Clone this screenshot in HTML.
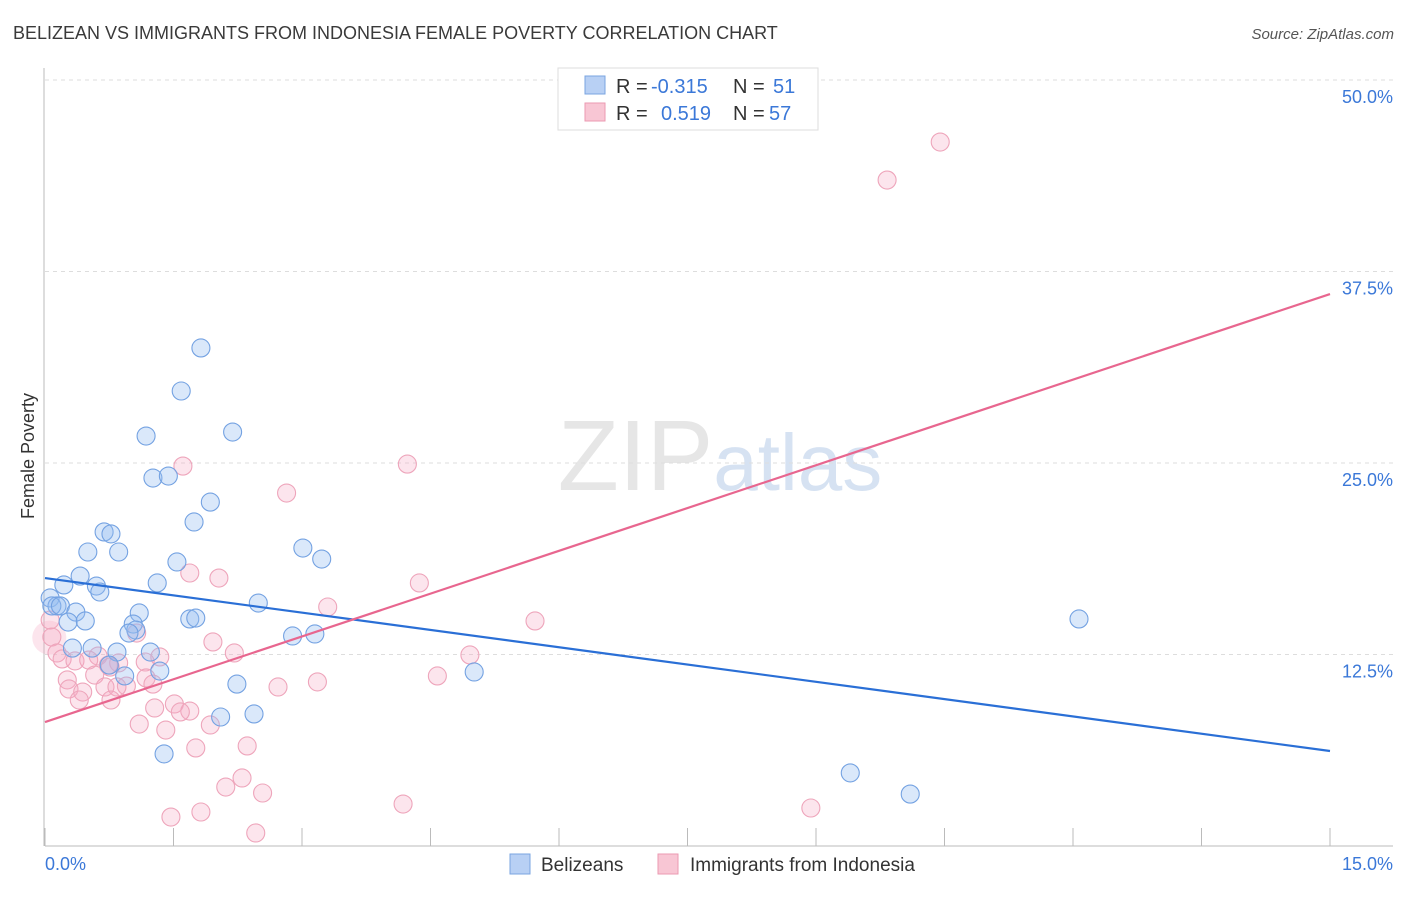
<!DOCTYPE html>
<html><head><meta charset="utf-8"><style>
body{margin:0;background:#fff;font-family:"Liberation Sans",sans-serif;}
svg text{font-family:"Liberation Sans",sans-serif;}
</style></head><body>
<svg id="chart" width="1406" height="892" viewBox="0 0 1406 892">
<text x="13" y="39" font-size="18" fill="#3a3a3a">BELIZEAN VS IMMIGRANTS FROM INDONESIA FEMALE POVERTY CORRELATION CHART</text>
<text x="1394" y="39" font-size="15" fill="#555" text-anchor="end" font-style="italic">Source: ZipAtlas.com</text>
<text transform="translate(34,456) rotate(-90)" font-size="18" fill="#333" text-anchor="middle">Female Poverty</text>
<text x="720" y="490" font-size="100" fill="#e6e6e6" text-anchor="middle" font-family="Liberation Serif">ZIP<tspan fill="#d6e2f2" font-family="Liberation Sans" font-size="80">atlas</tspan></text>
<g id="grid"></g><g id="pts"></g><g id="lines"></g>
<g>
<rect x="558" y="68" width="260" height="62" fill="#fff" stroke="#ddd"/>
<rect x="585" y="76" width="20" height="18" fill="#b8d0f4" stroke="#7aa4e0"/>
<rect x="585" y="103" width="20" height="18" fill="#f8c6d4" stroke="#eb9ab2"/>
<text x="616" y="93" font-size="20" fill="#333">R =</text>
<text x="651" y="93" font-size="20" fill="#3b78d8">-0.315</text>
<text x="733" y="93" font-size="20" fill="#333">N =</text>
<text x="773" y="93" font-size="20" fill="#3b78d8">51</text>
<text x="616" y="120" font-size="20" fill="#333">R =</text>
<text x="661" y="120" font-size="20" fill="#3b78d8">0.519</text>
<text x="733" y="120" font-size="20" fill="#333">N =</text>
<text x="769" y="120" font-size="20" fill="#3b78d8">57</text>
</g>
<g>
<rect x="510" y="854" width="20" height="20" fill="#b8d0f4" stroke="#7aa4e0"/>
<text x="541" y="871" font-size="19" fill="#333">Belizeans</text>
<rect x="658" y="854" width="20" height="20" fill="#f8c6d4" stroke="#eb9ab2"/>
<text x="690" y="871" font-size="19" fill="#333">Immigrants from Indonesia</text>
</g>
</svg>
<script>
const yTicks=[12.5,25,37.5,50];
const yTickLabels=["12.5%","25.0%","37.5%","50.0%"];
const xTickLabels=["0.0%","15.0%"];
const blueX=[1.82,1.59,1.18,2.19,1.26,1.44,1.93,1.74,0.69,0.77,0.50,0.86,3.01,3.23,1.54,0.41,0.22,0.60,1.31,0.64,0.06,0.14,0.08,0.18,0.36,1.10,2.49,1.69,1.76,0.27,0.47,1.03,1.06,0.98,2.89,3.15,0.55,0.32,0.84,1.23,1.34,0.75,0.93,2.24,5.01,2.05,2.44,1.39,9.40,10.10,12.07];
const blueY=[32.51,29.70,26.76,27.02,24.02,24.15,22.45,21.15,20.50,20.37,19.19,19.19,19.45,18.73,18.54,17.62,17.04,16.97,17.17,16.58,16.19,15.67,15.67,15.67,15.27,15.21,15.86,14.82,14.88,14.62,14.69,14.49,14.10,13.90,13.71,13.84,12.92,12.92,12.66,12.66,11.42,11.81,11.10,10.57,11.36,8.42,8.62,6.01,4.77,3.39,14.82];
const pinkX=[10.45,9.83,1.61,4.23,2.82,2.03,1.69,4.37,3.30,5.72,0.06,0.08,1.96,1.07,0.14,0.20,2.21,1.34,0.62,0.86,4.96,0.35,0.51,0.74,1.17,0.76,0.26,0.58,4.58,1.18,3.18,2.72,0.28,0.44,0.70,0.95,1.26,0.84,0.40,0.77,1.28,1.51,1.69,1.58,1.10,1.93,1.41,1.76,2.36,2.30,2.11,2.54,4.18,8.94,1.82,1.47,2.46];
const pinkY=[45.95,43.47,24.80,24.93,23.04,17.49,17.82,17.17,15.60,14.69,14.75,13.64,13.32,13.90,12.60,12.21,12.60,12.34,12.40,11.95,12.47,12.08,12.14,11.81,12.01,11.68,10.84,11.16,11.10,10.97,10.71,10.38,10.25,10.05,10.38,10.44,10.57,10.38,9.53,9.53,9.01,9.27,8.81,8.75,7.96,7.90,7.57,6.40,6.53,4.44,3.85,3.46,2.74,2.48,2.22,1.89,0.85];
const blueTrend=[17.49,6.20];
const pinkTrend=[8.09,36.03];
const NS="http://www.w3.org/2000/svg";
const X0=45,X1=1330,Y0=846,Y50=80;
function sx(v){return X0+(X1-X0)*v/15;}
function sy(v){return Y0-(Y0-Y50)*v/50;}
function mk(tag,attrs,parent){const e=document.createElementNS(NS,tag);for(const k in attrs)e.setAttribute(k,attrs[k]);parent.appendChild(e);return e;}
const grid=document.getElementById('grid');
let ax=mk('line',{x1:44,y1:68,x2:44,y2:846,stroke:'#bbb','stroke-width':1},grid);


let bx=mk('line',{x1:45,y1:846,x2:1393,y2:846,stroke:'#bbb','stroke-width':1},grid);


yTicks.forEach((t,i)=>{
 const g=mk('line',{x1:45,y1:sy(t),x2:1393,y2:sy(t),stroke:'#ddd','stroke-dasharray':'4,4'},grid);
 
 
 const tx=mk('text',{x:1393,y:sy(t)+23,'font-size':18,fill:'#3b78d8','text-anchor':'end'},grid);
 tx.textContent=yTickLabels[i];
 
 
});
for(let i=0;i<=10;i++){
 const x=sx(i*1.5);
 const t=mk('line',{x1:x,y1:828,x2:x,y2:846,stroke:'#bbb'},grid);
 
 
}
[[0,45,'start'],[1,1393,'end']].forEach(([i,x,a])=>{
 const t=mk('text',{x:x,y:870,'font-size':18,fill:'#3b78d8','text-anchor':a},grid);
 t.textContent=xTickLabels[i];
 
 
});
const pts=document.getElementById('pts');
const big=mk('circle',{cx:sx(0.05),cy:sy(13.6),r:17,fill:'rgba(245,170,195,0.3)',stroke:'none'},pts);


pinkX.forEach((v,i)=>{
 const c=mk('circle',{cx:sx(v),cy:sy(pinkY[i]),r:9,fill:'rgba(245,170,195,0.3)',stroke:'#eea5bb','stroke-width':1.1},pts);
 
 
});
blueX.forEach((v,i)=>{
 const c=mk('circle',{cx:sx(v),cy:sy(blueY[i]),r:9,fill:'rgba(150,190,240,0.35)',stroke:'#74a2e2','stroke-width':1.1},pts);
 
 
});
const lines=document.getElementById('lines');
const bl=mk('line',{x1:sx(0),y1:sy(blueTrend[0]),x2:sx(15),y2:sy(blueTrend[1]),stroke:'#2a6fd6','stroke-width':2.2},lines);


const pl=mk('line',{x1:sx(0),y1:sy(pinkTrend[0]),x2:sx(15),y2:sy(pinkTrend[1]),stroke:'#e8668f','stroke-width':2.2},lines);


</script>
</body></html>
